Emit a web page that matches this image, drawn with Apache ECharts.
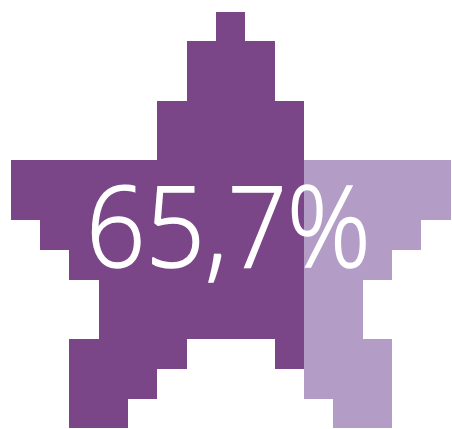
<!DOCTYPE html>
<html>
<head>
<meta charset="utf-8">
<script src="https://cdn.jsdelivr.net/npm/echarts@6/dist/echarts.min.js"></script>
<style>
html,body{margin:0;padding:0;background:#fff;}
#main{width:452px;height:429px;}
</style>
</head>
<body>
<div id="main"></div>
<script>
// Pixel-star: 15 columns x 14 rows; each segment = one column span
const segCol    = [0, 1, 2, 2,  3,  4,  5,  6,  7,  8,  9,  10, 11, 12, 12, 13, 14];
const segTop    = [5, 5, 5, 11, 5,  5,  3,  1,  0,  1,  3,  5,  5,  5,  11, 5,  5];
const segBottom = [7, 8, 9, 14, 14, 13, 12, 11, 11, 11, 12, 13, 14, 9,  14, 8,  7];
const filledColumns = 10;           // columns drawn in the dark colour
const valueLabel = '65,7%';
const nCols = 15, nRows = 14;

const darkColor = '#7b4688';
const lightColor = '#b39cc5';

const data = segCol.map((c, i) => [c, segTop[i], segBottom[i]]);

const chart = echarts.init(document.getElementById('main'));
chart.setOption({
  animation: false,
  grid: {left: 10.7, right: 1.3, top: 11.7, bottom: 0.7},
  xAxis: {type: 'value', min: 0, max: nCols, show: false},
  yAxis: {type: 'value', min: 0, max: nRows, inverse: true, show: false},
  series: [{
    type: 'custom',
    data: data,
    renderItem: function (params, api) {
      const c = api.value(0), t = api.value(1), b = api.value(2);
      const p1 = api.coord([c, t]);
      const p2 = api.coord([c + 1, b]);
      const x1 = Math.round(p1[0]), x2 = Math.round(p2[0]);
      const y1 = Math.round(p1[1]), y2 = Math.round(p2[1]);
      const col = c < filledColumns ? darkColor : lightColor;
      return {
        type: 'rect',
        shape: {x: x1, y: y1, width: x2 - x1, height: y2 - y1},
        style: {fill: col}
      };
    }
  }],
  graphic: [{
    type: 'text',
    x: 228.5,
    y: 235,
    scaleX: 0.93,
    style: {
      text: valueLabel,
      fill: '#ffffff',
      font: '300 112px "Open Sans", sans-serif',
      stroke: '#ffffff',
      lineWidth: 1.6,
      align: 'center',
      verticalAlign: 'middle'
    },
    z: 10
  }]
});
</script>
</body>
</html>
